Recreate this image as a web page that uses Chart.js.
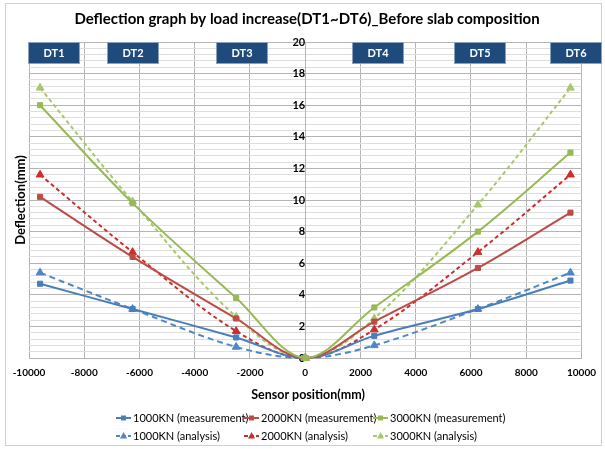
<!DOCTYPE html>
<html><head><meta charset="utf-8">
<script src="https://cdn.jsdelivr.net/npm/chart.js@4.4.0/dist/chart.umd.min.js"></script>
<style>html,body{margin:0;padding:0;background:#fff;}#wrap{width:605px;height:449px;}</style>
</head><body><div id="wrap"><canvas id="c" width="605" height="449"></canvas></div>
<script>
// ---- data ----
const positions = [-9600, -6250, -2500, 0, 2500, 6250, 9600];
const m1000 = [4.7, 3.1, 1.3, 0, 1.4, 3.1, 4.9];
const m2000 = [10.2, 6.4, 2.5, 0, 2.3, 5.7, 9.2];
const m3000 = [16.0, 9.8, 3.8, 0, 3.2, 8.0, 13.0];
const a1000 = [5.4, 3.1, 0.7, 0, 0.8, 3.1, 5.4];
const a2000 = [11.6, 6.7, 1.7, 0, 1.8, 6.7, 11.6];
const a3000 = [17.1, 9.9, 2.6, 0, 2.5, 9.7, 17.1];
const seriesNames = ['1000KN (measurement)', '2000KN (measurement)', '3000KN (measurement)',
                     '1000KN (analysis)', '2000KN (analysis)', '3000KN (analysis)'];
const sensorLabels = ['DT1', 'DT2', 'DT3', 'DT4', 'DT5', 'DT6'];
const titleText = 'Deflection graph by load increase(DT1~DT6)_Before slab composition';
const xTitle = 'Sensor position(mm)';
const yTitle = 'Deflection(mm)';
const xMin = -10000, xMax = 10000, xStep = 2000;
const yMin = 0, yMax = 20, yMinorStep = 0.4, yMajorStep = 2;

// ---- styles ----
const FONT = 'Lato, "Open Sans", sans-serif';
const styles = [
  {color: '#4A7EBB', dash: [], point: 'rect', r: 3.6},
  {color: '#BE4B48', dash: [], point: 'rect', r: 3.6},
  {color: '#98B954', dash: [], point: 'rect', r: 3.6},
  {color: '#4F86C6', dash: [6, 4], point: 'triangle', r: 4.5},
  {color: '#CC2E2B', dash: [4, 3], point: 'triangle', r: 4.5},
  {color: '#A9C76B', dash: [4, 3], point: 'triangle', r: 4.5}
];
const seriesValues = [m1000, m2000, m3000, a1000, a2000, a3000];
const drawOrder = [3, 2, 0, 6, 5, 4];

const datasets = seriesValues.map((vals, i) => ({
  label: seriesNames[i],
  data: positions.map((x, j) => ({x: x, y: vals[j]})),
  borderColor: styles[i].color,
  backgroundColor: styles[i].color,
  pointBackgroundColor: styles[i].color,
  pointBorderColor: styles[i].color,
  borderWidth: 2,
  borderDash: styles[i].dash,
  pointStyle: styles[i].point,
  pointRadius: styles[i].r,
  pointBorderWidth: 1,
  tension: 0.35,
  fill: false,
  clip: false,
  order: drawOrder[i]
}));

const isMajor = v => Math.abs(v / yMajorStep - Math.round(v / yMajorStep)) < 1e-6;

const decor = {
  id: 'decor',
  afterDraw(chart) {
    const ctx = chart.ctx;
    const ca = chart.chartArea;
    ctx.save();
    // outer border
    ctx.strokeStyle = '#d0d0d0';
    ctx.lineWidth = 1;
    ctx.strokeRect(5.5, 3.5, 596, 442);
    // title
    ctx.fillStyle = '#000';
    ctx.textAlign = 'center';
    ctx.textBaseline = 'middle';
    ctx.font = 'bold 15px ' + FONT;
    ctx.fillText(titleText, 307, 19);
    // x title
    ctx.font = 'bold 12.5px ' + FONT;
    ctx.fillText(xTitle, 308, 395);
    // y title
    ctx.font = 'bold 13px ' + FONT;
    ctx.save();
    ctx.translate(21, 200);
    ctx.rotate(-Math.PI / 2);
    ctx.fillText(yTitle, 0, 0);
    ctx.restore();
    // DT boxes
    const boxX = [28, 107, 216, 352, 454, 550];
    ctx.font = 'bold 11px ' + FONT;
    sensorLabels.forEach((lab, i) => {
      ctx.fillStyle = '#1F4A7C';
      ctx.fillRect(boxX[i], ca.top, 52, 22);
      ctx.strokeStyle = '#8aa0bd';
      ctx.strokeRect(boxX[i] + 0.5, ca.top + 0.5, 51, 21);
      ctx.fillStyle = '#fff';
      ctx.fillText(lab, boxX[i] + 26, ca.top + 11.5);
    });
    // legend
    const colX = [116, 244, 373];
    const rowY = [418, 436];
    ctx.font = '11px ' + FONT;
    ctx.textAlign = 'left';
    seriesNames.forEach((name, i) => {
      const x = colX[i % 3], y = rowY[Math.floor(i / 3)];
      const st = styles[i];
      ctx.strokeStyle = st.color;
      ctx.fillStyle = st.color;
      ctx.lineWidth = 2;
      ctx.setLineDash(st.dash.length ? [4, 2] : []);
      ctx.beginPath(); ctx.moveTo(x, y); ctx.lineTo(x + 15, y); ctx.stroke();
      ctx.setLineDash([]);
      const cx = x + 7.5;
      if (st.point === 'rect') {
        ctx.fillRect(cx - 2.5, y - 2.5, 5, 5);
      } else {
        ctx.beginPath();
        ctx.moveTo(cx, y - 4); ctx.lineTo(cx + 3.5, y + 2.5); ctx.lineTo(cx - 3.5, y + 2.5);
        ctx.closePath(); ctx.fill();
      }
      ctx.fillStyle = '#000';
      ctx.fillText(name, x + 17, y + 0.5);
    });
    ctx.restore();
  }
};

new Chart(document.getElementById('c'), {
  type: 'line',
  data: {datasets: datasets},
  options: {
    responsive: false,
    animation: false,
    layout: {padding: {left: 29, right: 17, top: 42, bottom: 71}},
    plugins: {legend: {display: false}, title: {display: false}, tooltip: {enabled: false}},
    scales: {
      x: {
        type: 'linear', min: xMin, max: xMax,
        ticks: {stepSize: xStep, padding: 9, color: '#000', font: {family: FONT, size: 10, weight: 'bold'},
          callback: v => String(v)},
        grid: {color: '#b4b4b4', drawTicks: false},
        border: {color: '#b4b4b4'},
        afterFit: s => { s.height = 20; }
      },
      y: {
        type: 'linear', min: yMin, max: yMax,
        position: {x: 0},
        ticks: {stepSize: yMinorStep, autoSkip: false, padding: 11, color: '#000',
          font: {family: FONT, size: 11, weight: 'bold'},
          callback: v => isMajor(v) ? String(Math.round(v)) : ''},
        grid: {color: c => isMajor(c.tick.value) ? '#b4b4b4' : '#dedede', drawTicks: false},
        border: {color: '#b4b4b4'}
      }
    }
  },
  plugins: [decor]
});
</script>
</body></html>
